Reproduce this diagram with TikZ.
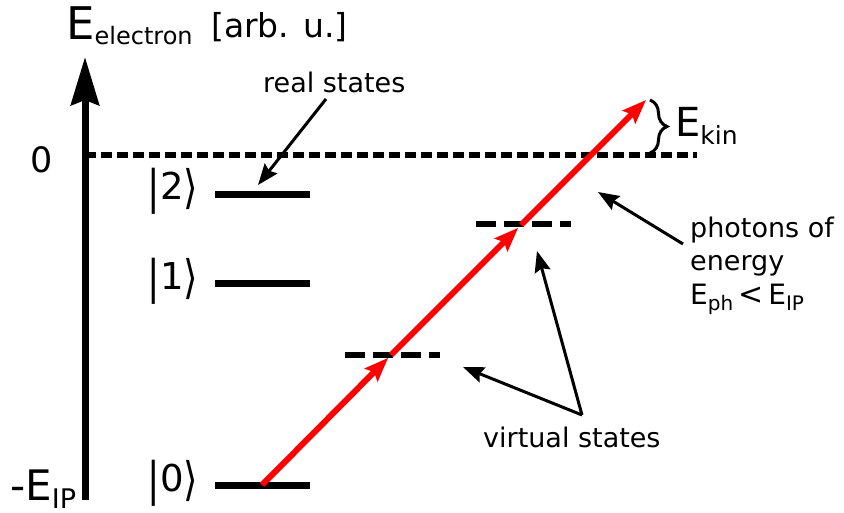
\documentclass[tikz,border=0pt]{standalone}
\usepackage{fontspec}
\usepackage{graphicx}
\setmainfont{DejaVu Sans}
\usetikzlibrary{arrows.meta,decorations.pathreplacing}
\newcommand{\fs}[1]{\fontsize{#1}{#1}\selectfont}
\newcommand{\tallglyph}[1]{\raisebox{-4pt}{\scalebox{1}[1.25]{#1}}}
\begin{document}
\begin{tikzpicture}[x=1pt,y=-1pt,
  level/.style={line width=7pt},
  vlevel/.style={line width=6pt, dash pattern=on 20pt off 8pt},
  zeroline/.style={line width=5.5pt, dash pattern=on 11pt off 5pt},
  photon/.style={red, line width=6pt, -{Stealth[length=24pt,width=18pt,inset=4pt]}},
  note/.style={line width=3pt, -{Stealth[length=21pt,width=16pt,inset=3pt]}},
  txt/.style={inner sep=0pt, anchor=base west},
  ket/.style={inner sep=0pt, anchor=base, font=\fs{37}}]
\useasboundingbox (0,0) rectangle (844,513);

% axis
\coordinate (axbot) at (85,500);
\coordinate (axtop) at (85,57);
\draw[line width=7pt, -{Stealth[length=48pt,width=28pt,inset=5pt]}] (axbot) -- (axtop);
\node[txt] (eaxis) at (66,40) {\fs{45}E\fs{24}\raisebox{-5pt}{electron}};
\node[txt] (unit) at (211,38) {\fs{33}[arb. u.]};

% zero line
\coordinate (z0) at (85,155);
\coordinate (z1) at (697,155);
\draw[zeroline] (z0) -- (z1);
\node[inner sep=0pt, anchor=base] (zero) at (42,173) {\fs{35}0};
\node[txt] (eip) at (10,500) {\fs{42}-E\fs{27}\raisebox{-8pt}{IP}};

% real states
\coordinate (l2a) at (215,195); \coordinate (l2b) at (310,195);
\coordinate (l1a) at (215,284); \coordinate (l1b) at (310,284);
\coordinate (l0a) at (215,485); \coordinate (l0b) at (310,485);
\draw[level] (l2a) -- (l2b);
\draw[level] (l1a) -- (l1b);
\draw[level] (l0a) -- (l0b);
\node[ket] (k2) at (173,200) {\tallglyph{|}2\tallglyph{⟩}};
\node[ket] (k1) at (173,290) {\tallglyph{|}1\tallglyph{⟩}};
\node[ket] (k0) at (173,491) {\tallglyph{|}0\tallglyph{⟩}};

% virtual states
\coordinate (v1a) at (345,355); \coordinate (v1b) at (440,355);
\coordinate (v2a) at (476,224); \coordinate (v2b) at (571,224);
\draw[vlevel] (v1a) -- (v1b);
\draw[vlevel] (v2a) -- (v2b);

% photons
\coordinate (g) at (262,485);
\coordinate (v1) at (391,355);
\coordinate (v2) at (521,225);
\coordinate (top) at (646,100);
\draw[photon, shorten >=4pt] (g) -- (v1);
\draw[photon, shorten >=4pt] (v1) -- (v2);
\draw[photon] (v2) -- (top);

% Ekin
\coordinate (b1) at (650,100);
\coordinate (b2) at (650,153);
\draw[line width=3pt, decorate, decoration={brace, amplitude=17pt}] (b1) -- (b2);
\node[txt] (ekin) at (675,137) {\fs{40}E\fs{25}\raisebox{-8pt}{kin}};

% annotations
\node[txt] (real) at (263,93) {\fs{27}real states};
\coordinate (realfrom) at (326,99);
\coordinate (realto) at (258,185);
\draw[note] (realfrom) -- (realto);

\node[txt] (ph1) at (690,238) {\fs{27}photons of};
\node[txt] (ph2) at (690,271) {\fs{27}energy};
\node[txt] (ph3) at (690,305) {\fs{28}E\fs{20}\raisebox{-6pt}{ph}\fs{30}\,<\,\fs{28}E\fs{20}\raisebox{-6pt}{IP}};
\coordinate (phfrom) at (683,244);
\coordinate (phto) at (598,192);
\draw[note] (phfrom) -- (phto);

\node[txt] (virt) at (483,447) {\fs{27}virtual states};
\coordinate (apex) at (582,415);
\coordinate (vt1) at (463,367);
\coordinate (vt2) at (537,251);
\draw[note] (apex) -- (vt1);
\draw[note] (apex) -- (vt2);
\end{tikzpicture}
\end{document}
